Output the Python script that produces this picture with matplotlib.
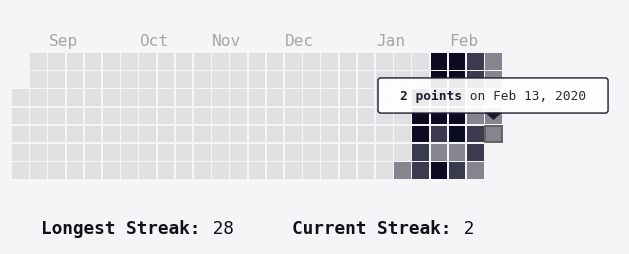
import numpy as np
import pandas as pd
import matplotlib.pyplot as plt
from matplotlib.patches import Rectangle, FancyBboxPatch, Polygon

# calendar range shown (about 6 months, weeks start on Sunday)
start_date = "2019-08-13"
end_date = "2020-02-13"

# days with points; every other day has 0
active_dates = [
    "2020-01-11",
    "2020-01-14", "2020-01-15", "2020-01-16", "2020-01-17", "2020-01-18",
    "2020-01-19", "2020-01-20", "2020-01-21", "2020-01-22", "2020-01-23", "2020-01-24", "2020-01-25",
    "2020-01-26", "2020-01-27", "2020-01-28", "2020-01-29", "2020-01-30", "2020-01-31", "2020-02-01",
    "2020-02-02", "2020-02-03", "2020-02-04", "2020-02-05", "2020-02-06", "2020-02-07", "2020-02-08",
    "2020-02-09", "2020-02-10", "2020-02-12", "2020-02-13",
]
active_points = [
    2,
    6, 6, 6, 4, 4,
    6, 6, 6, 6, 4, 2, 6,
    6, 6, 6, 6, 6, 2, 4,
    4, 4, 2, 2, 4, 4, 2,
    2, 2, 2, 2,
]

month_names = ["Sep", "Oct", "Nov", "Dec", "Jan", "Feb"]
month_weeks = [2, 7, 11, 15, 20, 24]

longest_streak = 28
current_streak = 2
hover_date = "2020-02-13"

# colour levels: 0 | 1-2 | 3-4 | 5+
level_bins = [1, 3, 5]
level_colors = ["#e0e0e2", "#85858f", "#3b3b4f", "#0b0b22"]
bg = "#f4f5f7"
mono = "DejaVu Sans Mono"
cw = 0.602  # advance width of a monospace glyph, in em


def main():
    days = pd.date_range(start_date, end_date, freq="D")
    pts = pd.Series(0, index=days)
    pts[pd.to_datetime(active_dates)] = active_points

    row = (days.dayofweek + 1) % 7  # Sunday = 0
    first_sunday = days[0] - pd.Timedelta(days=int(row[0]))
    week = (days - first_sunday).days // 7
    level = np.digitize(pts.values, level_bins)

    fig = plt.figure(figsize=(6.29, 2.55), dpi=100, facecolor=bg)
    W, H = 629, 255
    pitch = 18.2
    nweeks = int(week.max()) + 1
    ax = fig.add_axes([12 / W, 1 - (54 + 7 * pitch) / H, nweeks * pitch / W, 7 * pitch / H])
    ax.set_xlim(0, nweeks)
    ax.set_ylim(7, 0)
    ax.axis("off")

    size = 16.5 / pitch
    for w, d, lv in zip(week, row, level):
        ax.add_patch(Rectangle((w, d), size, size, facecolor=level_colors[lv],
                               edgecolor="none", zorder=1))

    # month labels
    for name, w in zip(month_names, month_weeks):
        ax.text(w, -0.66, name, ha="left", va="center", fontsize=11.6,
                family=mono, color="#a6a6a6", clip_on=False)

    # hovered cell + tooltip
    hd = pd.Timestamp(hover_date)
    i = days.get_loc(hd)
    hw, hr = week[i], row[i]
    ax.add_patch(Rectangle((hw, hr), size, size, facecolor="none",
                           edgecolor="#5a5a5a", lw=1.3, zorder=2))

    box = FancyBboxPatch((hw - 5.89, hr - 2.63), 12.64, 1.93,
                         boxstyle="round,pad=0,rounding_size=0.15",
                         facecolor="white", alpha=0.92, edgecolor="none",
                         zorder=3, clip_on=False)
    ax.add_patch(box)
    ax.add_patch(FancyBboxPatch((hw - 5.89, hr - 2.63), 12.64, 1.93,
                                boxstyle="round,pad=0,rounding_size=0.15",
                                facecolor="none", edgecolor="#1c1c2e", lw=1.0,
                                zorder=4, clip_on=False))
    cx = hw + size / 2
    ax.add_patch(Polygon([(cx - 0.45, hr - 0.72), (cx + 0.45, hr - 0.72), (cx, hr - 0.32)],
                         closed=True, facecolor="#1c1c2e", edgecolor="none",
                         zorder=4, clip_on=False))

    fs_tip = 9.3
    bold = f"{int(pts[hd])} points"
    ty = hr - 1.665
    ax.text(hw - 4.68, ty, bold, ha="left", va="center", fontsize=fs_tip,
            family=mono, weight="bold", color="#1c1c2e", zorder=5, clip_on=False)
    ax.annotate(f" on {hd.strftime('%b')} {hd.day}, {hd.year}", xy=(hw - 4.68, ty),
                xytext=(len(bold) * cw * fs_tip, 0), textcoords="offset points",
                ha="left", va="center", fontsize=fs_tip, family=mono,
                color="#2a2a3a", zorder=5, annotation_clip=False)

    # streak summary
    fs = 12.8
    for x, label, val in [(41, "Longest Streak:", longest_streak),
                          (292, "Current Streak:", current_streak)]:
        fig.text(x / W, 1 - 229 / H, label, ha="left", va="center", fontsize=fs,
                 family=mono, weight="bold", color="#111118")
        ax.annotate(f" {val}", xy=(x / W, 1 - 229 / H), xycoords="figure fraction",
                    xytext=(len(label) * cw * fs, 0), textcoords="offset points",
                    ha="left", va="center", fontsize=fs, family=mono,
                    color="#111118", annotation_clip=False)

    fig.savefig("out.png", dpi=100, facecolor=bg)


if __name__ == "__main__":
    main()
